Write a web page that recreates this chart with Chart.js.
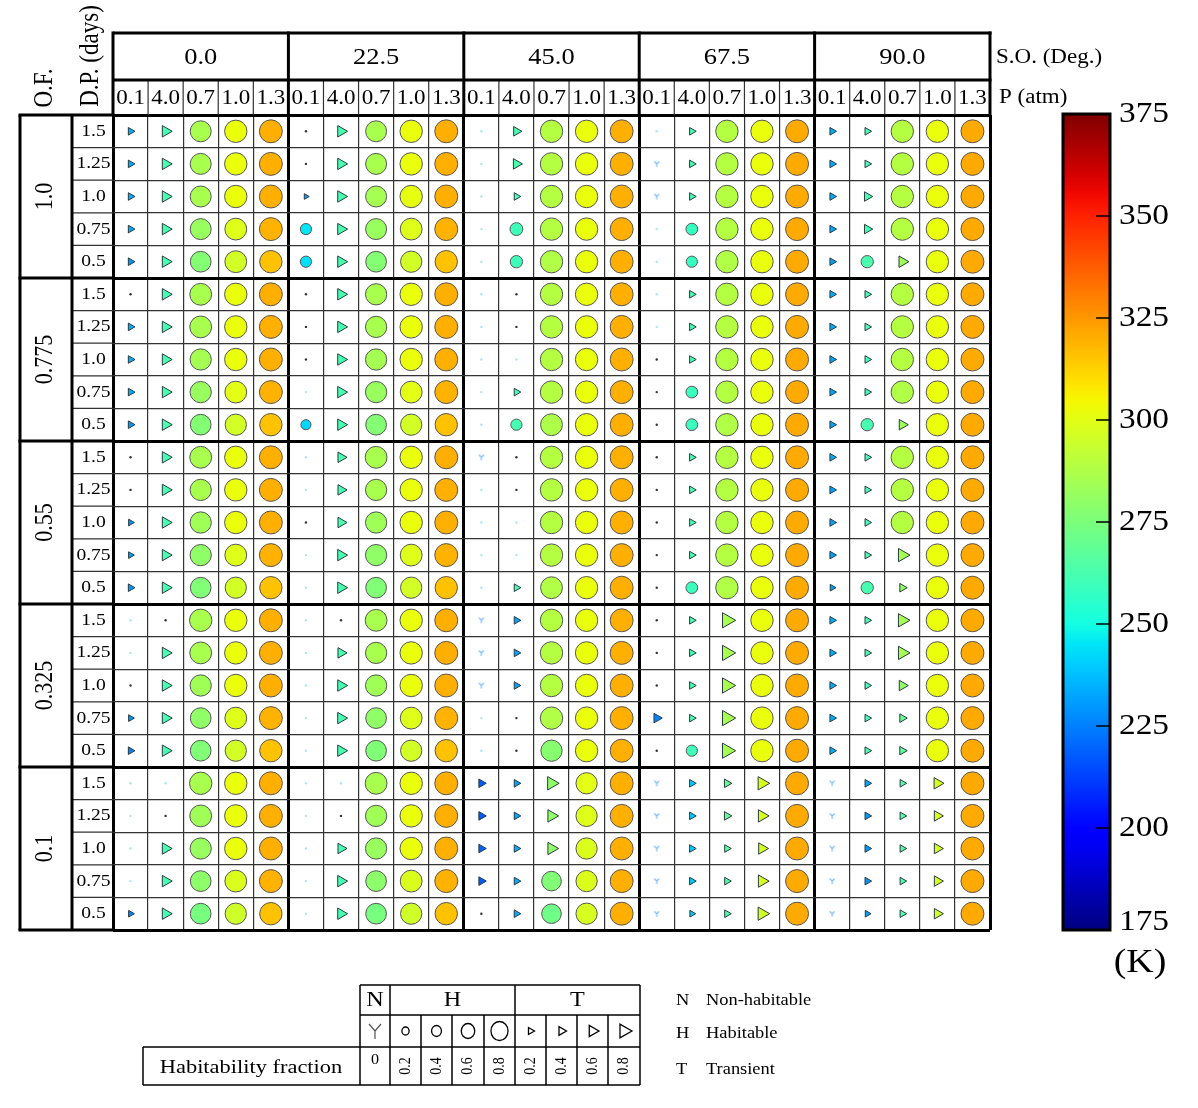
<!DOCTYPE html>
<html>
<head>
<meta charset="utf-8">
<script src="https://cdn.jsdelivr.net/npm/chart.js@4.4.0/dist/chart.umd.min.js"></script>
<style>
html, body { margin: 0; padding: 0; background: #fff; }
#wrap { position: relative; width: 1198px; height: 1108px; }
</style>
</head>
<body>
<div id="wrap"><canvas id="grafica"></canvas></div>
<script>
// Ejes de la tabla
const soLabels = ['0.0', '22.5', '45.0', '67.5', '90.0'];
const pLabels = ['0.1', '4.0', '0.7', '1.0', '1.3'];
const ofLabels = ['1.0', '0.775', '0.55', '0.325', '0.1'];
const dpLabels = ['1.5', '1.25', '1.0', '0.75', '0.5'];
const barTicks = [175, 200, 225, 250, 275, 300, 325, 350, 375];
const legendFractions = ['0.2', '0.4', '0.6', '0.8'];

// Celdas: C = habitable (círculo), T = transitorio (triángulo), y = no habitable,
// d = punto oscuro, l = punto claro. Número = fracción x100, @ = temperatura (K)
const celdasOF100 = [
	'T40@234 T60@262 C75@286 C80@302 C82@320 | d T60@262 C75@286 C80@302 C82@320 | l T50@262 C80@289 C80@302 C82@320 | l T40@262 C80@289 C80@302 C82@321 | T40@234 T40@262 C80@289 C80@302 C82@321',
	'T40@234 T60@262 C75@286 C80@302 C82@320 | d T60@262 C75@286 C80@302 C82@320 | l T55@262 C80@289 C80@302 C82@320 | y T40@262 C80@289 C80@302 C82@321 | T40@234 T40@262 C80@289 C80@302 C82@321',
	'T40@234 T60@262 C75@286 C80@302 C82@320 | T30@232 T60@262 C75@285 C80@301 C82@320 | l T40@262 C80@289 C80@302 C82@320 | y T40@262 C80@289 C80@302 C82@321 | T40@234 T50@262 C80@289 C80@302 C82@321',
	'T40@234 T60@262 C75@282 C78@299 C82@319 | C40@245 T60@262 C75@282 C78@299 C82@319 | l C46@260 C80@289 C80@302 C82@320 | l C42@258 C80@289 C80@302 C82@321 | T40@233 T50@262 C80@289 C80@302 C82@321',
	'T40@230 T60@262 C74@277 C78@296 C80@316 | C40@244 T60@262 C74@277 C76@296 C80@316 | l C44@260 C80@288 C80@302 C82@320 | l C40@258 C80@288 C80@302 C82@321 | T40@232 C44@263 T60@284 C80@302 C82@321'
];
const celdasOF0775 = [
	'd T60@262 C78@286 C80@302 C82@320 | d T60@262 C76@286 C80@302 C82@320 | l d C80@289 C80@302 C82@320 | l T40@262 C80@289 C80@302 C82@321 | T40@234 T40@262 C80@289 C80@302 C82@321',
	'T40@234 T60@262 C78@286 C80@302 C82@320 | d T60@262 C76@286 C80@302 C82@320 | l d C80@289 C80@302 C82@320 | l T40@262 C80@289 C80@302 C82@321 | T40@234 T40@262 C80@289 C80@302 C82@321',
	'T40@234 T60@262 C76@285 C80@302 C82@320 | d T60@262 C76@285 C80@302 C82@320 | l l C80@289 C80@302 C82@320 | d T40@262 C80@289 C80@302 C82@321 | T40@232 T40@262 C80@289 C80@302 C82@321',
	'T40@234 T60@262 C76@282 C78@300 C82@319 | l T60@262 C76@282 C78@300 C82@319 | l T40@262 C80@289 C80@302 C82@320 | d C42@259 C80@289 C80@302 C82@321 | T40@232 T40@262 C80@288 C80@302 C82@321',
	'T40@230 T60@262 C74@277 C76@296 C80@316 | C36@242 T60@262 C74@277 C76@296 C80@316 | l C40@262 C78@287 C80@302 C82@320 | d C42@259 C80@288 C80@302 C82@321 | T40@232 C44@262 T55@284 C80@302 C82@321'
];
const celdasOF055 = [
	'd T60@262 C78@286 C80@302 C82@320 | l T55@262 C78@286 C80@302 C82@320 | y d C80@289 C80@302 C82@320 | d T40@262 C80@289 C80@302 C82@321 | T40@234 T40@262 C80@289 C80@302 C82@321',
	'd T60@262 C76@286 C80@302 C82@320 | l T55@262 C76@286 C80@302 C82@320 | l d C80@289 C80@302 C82@320 | d T40@262 C80@289 C80@302 C82@321 | T40@232 T40@262 C80@289 C80@302 C82@321',
	'T35@230 T60@262 C76@284 C80@302 C82@320 | d T55@262 C76@284 C80@302 C82@320 | l l C80@289 C80@302 C82@320 | d T40@262 C80@289 C80@302 C82@321 | T40@232 T40@262 C80@289 C80@302 C82@321',
	'T35@232 T60@262 C76@280 C78@299 C82@319 | l T60@262 C76@280 C78@299 C82@319 | l l C80@289 C80@302 C82@320 | d T40@262 C80@289 C80@302 C82@321 | T40@232 T40@262 T70@285 C80@302 C82@321',
	'T40@230 T60@262 C74@276 C76@296 C80@316 | l T60@262 C74@276 C76@296 C80@316 | l T40@262 C78@288 C80@302 C82@320 | d C42@259 C80@288 C80@302 C82@321 | T35@232 C44@262 T45@280 C80@302 C82@321'
];
const celdasOF0325 = [
	'l d C80@286 C80@302 C82@320 | l d C78@286 C80@302 C82@320 | y T40@232 C80@289 C80@302 C82@320 | d T40@262 T80@286 C80@302 C82@321 | T40@234 T40@262 T70@285 C80@302 C82@321',
	'l T60@262 C78@286 C80@302 C82@320 | l T55@262 C76@286 C80@302 C82@320 | y T40@232 C80@289 C80@302 C82@320 | d T40@262 T80@286 C80@302 C82@321 | T40@234 T40@262 T70@285 C80@302 C82@321',
	'd T60@262 C76@284 C80@302 C82@320 | l T60@262 C76@284 C80@302 C82@320 | y T40@232 C80@289 C80@302 C82@320 | d T40@262 T80@286 C80@302 C82@321 | T40@234 T40@262 T55@280 C80@302 C82@321',
	'T35@230 T60@262 C74@280 C78@299 C82@319 | l T60@262 C74@280 C78@299 C82@319 | l d C80@288 C80@302 C82@320 | T50@226 T40@262 T80@286 C80@302 C82@321 | T40@234 T40@262 T45@270 C80@302 C82@321',
	'T40@226 T60@262 C74@276 C76@296 C80@316 | l T60@262 C74@276 C76@296 C80@316 | l d C76@278 C80@302 C82@320 | d C40@260 T80@285 C80@302 C82@321 | T40@234 T40@262 T45@268 C80@302 C82@321'
];
const celdasOF01 = [
	'l l C80@286 C80@302 C82@320 | l l C78@286 C80@302 C82@320 | T45@218 T40@232 T70@280 C76@300 C82@320 | y T40@240 T45@268 T70@298 C82@321 | y T40@232 T40@265 T60@298 C82@321',
	'l d C78@284 C80@302 C82@320 | l d C76@284 C80@302 C82@320 | T45@218 T40@232 T65@280 C76@299 C82@320 | y T40@240 T45@268 T65@298 C82@321 | y T40@230 T40@265 T55@298 C82@321',
	'l T60@262 C76@282 C80@302 C82@320 | l T55@262 C76@282 C80@302 C82@320 | T45@220 T40@234 T65@280 C76@298 C82@320 | y T40@240 T40@265 T60@297 C82@321 | y T40@230 T40@265 T55@297 C82@321',
	'l T60@262 C74@279 C78@298 C82@319 | l T60@262 C74@279 C78@298 C82@319 | T45@218 T40@234 C70@276 C76@298 C82@320 | y T40@240 T40@264 T65@297 C82@321 | y T40@230 T40@264 T55@297 C82@321',
	'T35@226 T60@262 C74@274 C76@295 C80@316 | l T60@262 C74@274 C76@295 C80@316 | d T40@234 C70@272 C76@297 C82@320 | y T35@240 T40@264 T70@296 C82@321 | y T35@232 T40@264 T55@295 C82@321'
];

const FUENTE = '"Liberation Serif", "Times New Roman", serif';
const ESTIRA = 1.15;

// Mapa de color tipo "jet"
function jet(v) {
	const t = Math.max(0, Math.min(1, (v - barTicks[0]) / (barTicks[barTicks.length - 1] - barTicks[0])));
	const tramo = (pts) => {
		for (let i = 1; i < pts.length; i++) {
			if (t <= pts[i][0]) {
				const [x0, y0] = pts[i - 1], [x1, y1] = pts[i];
				return y0 + (y1 - y0) * (t - x0) / (x1 - x0);
			}
		}
		return pts[pts.length - 1][1];
	};
	const r = tramo([[0, 0], [0.35, 0], [0.66, 1], [0.89, 1], [1, 0.5]]);
	const g = tramo([[0, 0], [0.125, 0], [0.375, 1], [0.64, 1], [0.91, 0], [1, 0]]);
	const b = tramo([[0, 0.5], [0.11, 1], [0.34, 1], [0.65, 0], [1, 0]]);
	return 'rgb(' + Math.round(r * 255) + ',' + Math.round(g * 255) + ',' + Math.round(b * 255) + ')';
}

// Marcador "Y" de celdas no habitables
const marcaN = document.createElement('canvas');
marcaN.width = 8; marcaN.height = 8;
(function () {
	const g = marcaN.getContext('2d');
	g.strokeStyle = '#6fb8ff';
	g.lineWidth = 1.1;
	g.beginPath();
	g.moveTo(1.5, 1.5); g.lineTo(4, 4); g.lineTo(6.5, 1.5);
	g.moveTo(4, 4); g.lineTo(4, 7);
	g.stroke();
})();

// Convertir celdas en puntos
const puntos = [];
[celdasOF100, celdasOF0775, celdasOF055, celdasOF0325, celdasOF01].forEach((filas, o) => {
	filas.forEach((fila, d) => {
		fila.split(/\s+/).filter(s => s && s !== '|').forEach((tok, c) => {
			const p = { x: c + 0.5, y: o * 5 + d + 0.5, forma: tok[0] };
			if (tok.length > 1) {
				const partes = tok.slice(1).split('@');
				p.frac = +partes[0] / 100;
				p.temp = +partes[1];
			}
			puntos.push(p);
		});
	});
});

function estilo(p) {
	if (!p) return 'circle';
	if (p.forma === 'T') return 'triangle';
	if (p.forma === 'y') return marcaN;
	return 'circle';
}
function radio(p) {
	if (!p) return 3;
	if (p.forma === 'C') return 14 * p.frac;
	if (p.forma === 'T') return 11 * p.frac;
	return 1.2;
}
function relleno(p) {
	if (!p) return '#000';
	if (p.forma === 'd') return '#333';
	if (p.forma === 'l') return '#a8e6ff';
	return jet(p.temp);
}
function borde(p) {
	if (!p) return '#000';
	if (p.forma === 'C') return '#555';
	if (p.forma === 'T') return '#2a3a40';
	return 'rgba(0,0,0,0)';
}

function texto(ctx, s, x, y, size, align, rot) {
	ctx.save();
	ctx.translate(x, y);
	ctx.scale(ESTIRA, 1);
	if (rot) ctx.rotate(rot);
	ctx.font = size + 'px ' + FUENTE;
	ctx.fillStyle = '#000';
	ctx.textAlign = align || 'center';
	ctx.textBaseline = 'middle';
	ctx.fillText(s, 0, 0);
	ctx.restore();
}
function linea(ctx, x1, y1, x2, y2, w, color) {
	ctx.save();
	ctx.strokeStyle = color || '#000';
	ctx.lineWidth = w;
	ctx.beginPath();
	ctx.moveTo(x1, y1);
	ctx.lineTo(x2, y2);
	ctx.stroke();
	ctx.restore();
}

// Cabeceras, colorbar y leyenda
const marcos = {
	id: 'marcos',
	afterDraw(chart) {
		const ctx = chart.ctx;
		const ca = chart.chartArea;
		const L = ca.left, R = ca.right, T = ca.top, B = ca.bottom;
		const cw = (R - L) / 25, ch = (B - T) / 25;
		const hTop = T - 82, hMid = T - 35;
		const xOF = 20, xDP = 72;

		// cabecera superior
		for (let i = 0; i <= 25; i++) {
			const x = L + i * cw;
			if (i % 5 === 0) linea(ctx, x, hTop - 1.5, x, T, 3);
			else linea(ctx, x, hMid, x, T, 1.2, '#333');
		}
		linea(ctx, L, hTop, R + 1.5, hTop, 3);
		linea(ctx, L, hMid, R + 1.5, hMid, 3);
		soLabels.forEach((s, i) => texto(ctx, s, L + (i * 5 + 2.5) * cw, (hTop + hMid) / 2 + 1, 23));
		for (let i = 0; i < 25; i++) texto(ctx, pLabels[i % 5], L + (i + 0.5) * cw, (hMid + T) / 2 + 1, 20);
		texto(ctx, 'S.O. (Deg.)', R + 6, (hTop + hMid) / 2 + 1, 20, 'left');
		texto(ctx, 'P (atm)', R + 9, (hMid + T) / 2, 20, 'left');

		// columnas izquierdas
		for (let r = 0; r <= 25; r++) {
			const y = T + r * ch;
			if (r % 5 === 0) linea(ctx, xOF - 1.5, y, L, y, 3);
			else linea(ctx, xDP, y, L, y, 1.2, '#333');
		}
		linea(ctx, xOF, T, xOF, B, 3);
		linea(ctx, xDP, T, xDP, B, 3);
		ofLabels.forEach((s, i) => texto(ctx, s, (xOF + xDP) / 2 - 1, T + (i * 5 + 2.5) * ch, 22, 'center', -Math.PI / 2));
		for (let r = 0; r < 25; r++) texto(ctx, dpLabels[r % 5], (xDP + L) / 2 + 1, T + (r + 0.5) * ch, 17);
		texto(ctx, 'O.F.', 45, 88, 23, 'center', -Math.PI / 2);
		texto(ctx, 'D.P. (days)', 91, 56, 23, 'center', -Math.PI / 2);

		// barra de color
		const cbL = 1063, cbR = 1110, cbT = T - 1, cbB = B;
		const tMin = barTicks[0], tMax = barTicks[barTicks.length - 1];
		const grad = ctx.createLinearGradient(0, cbB, 0, cbT);
		for (let i = 0; i <= 40; i++) grad.addColorStop(i / 40, jet(tMin + (tMax - tMin) * i / 40));
		ctx.fillStyle = grad;
		ctx.fillRect(cbL, cbT, cbR - cbL, cbB - cbT);
		ctx.strokeStyle = '#000';
		ctx.lineWidth = 3;
		ctx.strokeRect(cbL, cbT, cbR - cbL, cbB - cbT);
		barTicks.forEach(v => {
			const y = cbB - (v - tMin) / (tMax - tMin) * (cbB - cbT);
			if (v !== tMin && v !== tMax) linea(ctx, cbR - 14, y, cbR, y, 1.5);
			const yl = Math.min(Math.max(y, cbT), cbB - 8);
			texto(ctx, String(v), 1119, yl, 29, 'left');
		});
		texto(ctx, '(K)', 1140, 963, 33);

		// leyenda inferior
		const lx = [360, 390, 421, 452, 484, 515, 546, 577, 608, 640];
		const ly = [985, 1015, 1047, 1085];
		linea(ctx, 360, ly[0], 640, ly[0], 1.5);
		linea(ctx, 360, ly[1], 640, ly[1], 1.5);
		linea(ctx, 143, ly[2], 640, ly[2], 1.5);
		linea(ctx, 143, ly[3], 640, ly[3], 1.5);
		linea(ctx, 143, ly[2], 143, ly[3], 1.5);
		lx.forEach((x, i) => {
			if (i === 0 || i === 1 || i === 5 || i === 9) linea(ctx, x, ly[0], x, ly[3], 1.5);
			else linea(ctx, x, ly[1], x, ly[3], 1.5);
		});
		texto(ctx, 'N', 375, 1000, 21);
		texto(ctx, 'H', 452.5, 1000, 21);
		texto(ctx, 'T', 577.5, 1000, 21);
		texto(ctx, 'Habitability fraction', 251, 1068, 19.5);
		texto(ctx, '0', 375, 1060, 14);
		// símbolo N
		ctx.save();
		ctx.strokeStyle = '#555';
		ctx.lineWidth = 1.2;
		ctx.beginPath();
		ctx.moveTo(369, 1024); ctx.lineTo(375, 1031); ctx.lineTo(381, 1024);
		ctx.moveTo(375, 1031); ctx.lineTo(375, 1039);
		ctx.stroke();
		ctx.restore();
		const tamC = [4, 5.5, 7.5, 9.5];
		const tamT = [4, 5, 6.5, 8];
		legendFractions.forEach((f, i) => {
			const xc = (lx[i + 1] + lx[i + 2]) / 2;
			const xt = (lx[i + 5] + lx[i + 6]) / 2;
			ctx.save();
			ctx.strokeStyle = '#000';
			ctx.lineWidth = 1.3;
			ctx.beginPath();
			ctx.ellipse(xc, 1031, tamC[i] * 0.9, tamC[i], 0, 0, Math.PI * 2);
			ctx.stroke();
			const r = tamT[i];
			ctx.beginPath();
			ctx.moveTo(xt + r, 1031);
			ctx.lineTo(xt - r * 0.5, 1031 - r * 0.866);
			ctx.lineTo(xt - r * 0.5, 1031 + r * 0.866);
			ctx.closePath();
			ctx.stroke();
			ctx.restore();
			texto(ctx, f, xc, 1066, 14, 'center', -Math.PI / 2);
			texto(ctx, f, xt, 1066, 14, 'center', -Math.PI / 2);
		});
		texto(ctx, 'N', 676, 1001, 16, 'left');
		texto(ctx, 'Non-habitable', 706, 1001, 16, 'left');
		texto(ctx, 'H', 676, 1034, 16, 'left');
		texto(ctx, 'Habitable', 706, 1034, 16, 'left');
		texto(ctx, 'T', 676, 1070, 16, 'left');
		texto(ctx, 'Transient', 706, 1070, 16, 'left');
	}
};

const ejeRejilla = {
	display: true,
	ticks: { display: false, stepSize: 1, maxTicksLimit: 30, autoSkip: false },
	border: { display: false },
	grid: {
		drawTicks: false,
		color: c => (c.tick && c.tick.value % 5 === 0) ? '#000' : '#333',
		lineWidth: c => (c.tick && c.tick.value % 5 === 0) ? 3 : 1.2
	},
	min: 0,
	max: 25
};

const ctx = document.getElementById('grafica').getContext('2d');
new Chart(ctx, {
	type: 'scatter',
	data: {
		datasets: [{
			data: puntos,
			pointStyle: c => estilo(c.raw),
			pointRadius: c => radio(c.raw),
			pointHoverRadius: c => radio(c.raw),
			pointBackgroundColor: c => relleno(c.raw),
			pointBorderColor: c => borde(c.raw),
			pointBorderWidth: c => (c.raw && (c.raw.forma === 'C' || c.raw.forma === 'T')) ? 1 : 0,
			pointRotation: c => (c.raw && c.raw.forma === 'T') ? 90 : 0
		}]
	},
	options: {
		responsive: true,
		maintainAspectRatio: false,
		animation: false,
		events: [],
		layout: { padding: { left: 113, top: 115, right: 208, bottom: 178 } },
		plugins: {
			legend: { display: false },
			tooltip: { enabled: false }
		},
		scales: {
			x: Object.assign({ type: 'linear', position: 'top' }, ejeRejilla),
			y: Object.assign({ type: 'linear', reverse: true }, ejeRejilla)
		}
	},
	plugins: [marcos]
});
</script>
</body>
</html>
